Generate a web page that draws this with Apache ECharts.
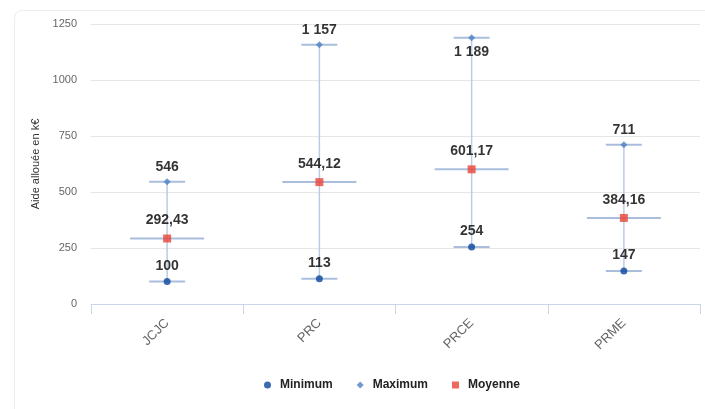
<!DOCTYPE html>
<html>
<head>
<meta charset="utf-8">
<script src="https://cdn.jsdelivr.net/npm/echarts@6/dist/echarts.min.js"></script>
<style>
  html, body { margin: 0; padding: 0; background: #fff; }
  #card { position: absolute; left: 14px; top: 10px; width: 720px; height: 430px;
          border: 1px solid #ececec; border-radius: 8px; }
  #main { position: absolute; left: 0; top: 0; width: 705px; height: 409px; }
</style>
</head>
<body>
<div id="card"></div>
<div id="main"></div>
<script>
var categories = ['JCJC', 'PRC', 'PRCE', 'PRME'];
var minValues = [100, 113, 254, 147];
var maxValues = [546, 1157, 1189, 711];
var meanValues = [292.43, 544.12, 601.17, 384.16];
var maxLabelPos = ['top', 'top', 'bottom', 'top'];

// format a la francaise : "1 157", "544,12"
var fmt = function (v) {
    var parts = String(v).split('.');
    var ent = parts[0].replace(/\B(?=(\d{3})+(?!\d))/g, ' ');
    return parts.length > 1 ? ent + ',' + parts[1] : ent;
};

var whiskerData = categories.map(function (c, i) {
    return [i, minValues[i], maxValues[i], meanValues[i]];
});

var capColor = '#a9bedd';

var renderWhisker = function (params, api) {
    var x = api.value(0);
    var lo = api.coord([x, api.value(1)]);
    var hi = api.coord([x, api.value(2)]);
    var mid = api.coord([x, api.value(3)]);
    var cap = function (p, half) {
        return {
            type: 'line',
            shape: { x1: p[0] - half, y1: p[1], x2: p[0] + half, y2: p[1] },
            style: { stroke: capColor, lineWidth: 2 }
        };
    };
    return {
        type: 'group',
        children: [
            { type: 'line', shape: { x1: lo[0], y1: lo[1], x2: hi[0], y2: hi[1] },
              style: { stroke: '#bccbe4', lineWidth: 1.5 } },
            cap(lo, 18), cap(hi, 18), cap(mid, 37)
        ]
    };
};

var labelStyle = {
    show: true,
    color: '#000',
    fontSize: 14,
    fontWeight: 'bold',
    fontFamily: 'Liberation Sans, Arial, sans-serif',
    formatter: function (p) { return fmt(p.value); }
};

var chart = echarts.init(document.getElementById('main'));
chart.setOption({
    animation: false,
    textStyle: { fontFamily: 'Liberation Sans, Arial, sans-serif' },
    grid: { left: 91, right: 5, top: 24, bottom: 105 },
    legend: {
        bottom: 13,
        left: 259,
        itemWidth: 7,
        itemHeight: 7,
        itemGap: 24,
        textStyle: { color: '#222', fontSize: 12, fontWeight: 'bold', padding: [0, 0, 0, 4] },
        data: [
            { name: 'Minimum', icon: 'circle' },
            { name: 'Maximum', icon: 'diamond' },
            { name: 'Moyenne', icon: 'rect' }
        ]
    },
    xAxis: {
        type: 'category',
        data: categories,
        axisLine: { lineStyle: { color: '#ccd6eb', width: 1 } },
        axisTick: { show: true, length: 10, lineStyle: { color: '#ccd6eb' } },
        axisLabel: { rotate: 45, color: '#666', fontSize: 13, margin: 17 }
    },
    yAxis: {
        type: 'value',
        min: 0,
        max: 1250,
        interval: 250,
        name: 'Aide allouée en k€',
        nameLocation: 'middle',
        nameGap: 48,
        nameTextStyle: { color: '#333', fontSize: 11 },
        axisLabel: { color: '#666', fontSize: 11, margin: 14, formatter: function (v) { return String(v); } },
        axisLine: { show: false },
        axisTick: { show: false },
        splitLine: { lineStyle: { color: '#e6e6e6' } }
    },
    series: [
        {
            type: 'custom',
            name: 'whiskers',
            renderItem: renderWhisker,
            data: whiskerData,
            z: 1,
            silent: true
        },
        {
            type: 'scatter',
            name: 'Minimum',
            symbol: 'circle',
            symbolSize: 7,
            itemStyle: { color: '#0b469b' },
            label: Object.assign({ position: 'top', distance: 5 }, labelStyle),
            data: minValues,
            z: 3
        },
        {
            type: 'scatter',
            name: 'Maximum',
            symbol: 'diamond',
            symbolSize: 7,
            itemStyle: { color: '#4f7fc4' },
            label: Object.assign({ position: 'top', distance: 4 }, labelStyle),
            data: maxValues.map(function (v, i) {
                return { value: v, label: { position: maxLabelPos[i] } };
            }),
            z: 3
        },
        {
            type: 'scatter',
            name: 'Moyenne',
            symbol: 'rect',
            symbolSize: 8,
            itemStyle: { color: '#ea4335' },
            label: Object.assign({ position: 'top', distance: 7 }, labelStyle),
            data: meanValues,
            z: 3
        }
    ]
});
</script>
</body>
</html>
